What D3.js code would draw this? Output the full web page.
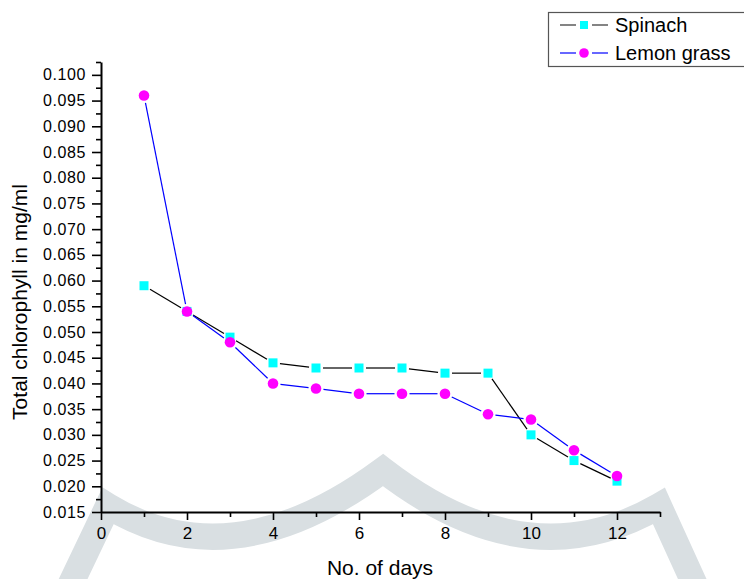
<html>
  <head>
    <script src="https://d3js.org/d3.v7.min.js"></script>
    <style>
      body { margin: 0; background: #fff; }
      text { font-family: "Liberation Sans", Arial, sans-serif; }
    </style>
  </head>
  <body>
    <svg width="744" height="579" id="chart"></svg>
    <script>
      // data
      const days = [1, 2, 3, 4, 5, 6, 7, 8, 9, 10, 11, 12];
      const spinach = [0.059, 0.054, 0.049, 0.044, 0.043, 0.043, 0.043, 0.042, 0.042, 0.030, 0.025, 0.021];
      const lemonGrass = [0.096, 0.054, 0.048, 0.040, 0.039, 0.038, 0.038, 0.038, 0.034, 0.033, 0.027, 0.022];
      const seriesNames = ["Spinach", "Lemon grass"];

      const xTicks = [0, 2, 4, 6, 8, 10, 12];
      const xMinorTicks = [1, 3, 5, 7, 9, 11, 13];
      const yTicks = [0.015, 0.02, 0.025, 0.03, 0.035, 0.04, 0.045, 0.05, 0.055, 0.06,
        0.065, 0.07, 0.075, 0.08, 0.085, 0.09, 0.095, 0.1];
      const yMinorTicks = yTicks.map((v) => v + 0.0025);

      const svg = d3.select("svg#chart");

      // faint watermark behind everything
      svg
        .append("path")
        .attr("d", "M 44 640 L 108 506 Q 232 582 383 470 Q 528 582 659 506 L 720 640")
        .attr("fill", "none")
        .attr("stroke", "#d9dfe2")
        .attr("stroke-width", 26)
        .attr("stroke-linejoin", "miter")
        .attr("stroke-miterlimit", 10);

      const xScale = d3.scaleLinear().domain([0, 13]).range([101, 660]);
      const yScale = d3.scaleLinear().domain([0.015, 0.1025]).range([512, 62]);

      // y axis
      const yAxis = svg.append("g").attr("transform", "translate(101,0)");
      yAxis.call(
        d3.axisLeft(yScale).tickValues(yTicks).tickSize(9).tickSizeOuter(0)
          .tickPadding(6).tickFormat(d3.format(".3f"))
      );
      yAxis.append("g").call(
        d3.axisLeft(yScale).tickValues(yMinorTicks).tickSize(5).tickFormat("")
      ).select(".domain").remove();

      // x axis
      const xAxis = svg.append("g").attr("transform", "translate(0,512)");
      xAxis.call(
        d3.axisBottom(xScale).tickValues(xTicks).tickSize(8).tickSizeOuter(0).tickPadding(7)
      );
      xAxis.append("g").call(
        d3.axisBottom(xScale).tickValues(xMinorTicks).tickSize(5).tickFormat("")
      ).select(".domain").remove();

      svg.selectAll(".domain").attr("stroke", "#000").attr("stroke-width", 2);
      svg.selectAll(".tick line").attr("stroke", "#000").attr("stroke-width", 1.6);
      yAxis.selectAll(".tick text").attr("font-size", 16).attr("fill", "#000")
        .attr("letter-spacing", 0.6)
        .attr("font-family", "Liberation Sans, Arial, sans-serif");
      xAxis.selectAll(".tick text").attr("font-size", 17).attr("fill", "#000")
        .attr("font-family", "Liberation Sans, Arial, sans-serif");

      // axis titles
      svg.append("text")
        .attr("x", 380).attr("y", 575)
        .attr("text-anchor", "middle")
        .attr("font-size", 21)
        .text("No. of days");
      svg.append("text")
        .attr("transform", "translate(27,302) rotate(-90)")
        .attr("text-anchor", "middle")
        .attr("font-size", 21)
        .text("Total chlorophyll in mg/ml");

      // line with little gaps next to the symbols, Origin style
      function drawSeries(values, lineColor, gap) {
        const pts = days.map((d, i) => [xScale(d), yScale(values[i])]);
        for (let i = 0; i < pts.length - 1; i++) {
          const [x1, y1] = pts[i];
          const [x2, y2] = pts[i + 1];
          const len = Math.hypot(x2 - x1, y2 - y1);
          if (len <= 2 * gap) continue;
          const ux = (x2 - x1) / len, uy = (y2 - y1) / len;
          svg.append("line")
            .attr("x1", x1 + ux * gap).attr("y1", y1 + uy * gap)
            .attr("x2", x2 - ux * gap).attr("y2", y2 - uy * gap)
            .attr("stroke", lineColor)
            .attr("stroke-width", 1.2);
        }
        return pts;
      }

      const spPts = drawSeries(spinach, "#000", 7);
      spPts.forEach(([x, y]) => {
        svg.append("rect")
          .attr("x", x - 4.5).attr("y", y - 4.5)
          .attr("width", 9).attr("height", 9)
          .attr("fill", "#00ffff");
      });

      const lgPts = drawSeries(lemonGrass, "#0000ff", 7.5);
      lgPts.forEach(([x, y]) => {
        svg.append("circle")
          .attr("cx", x).attr("cy", y).attr("r", 5.3)
          .attr("fill", "#ff00ff");
      });

      // legend
      const legend = svg.append("g");
      legend.append("rect")
        .attr("x", 548.5).attr("y", 12.5)
        .attr("width", 200).attr("height", 54)
        .attr("fill", "#fff")
        .attr("stroke", "#555")
        .attr("stroke-width", 1.2);
      const legendRows = [
        { name: seriesNames[0], color: "#333", y: 25, shape: "square" },
        { name: seriesNames[1], color: "#0000ff", y: 53, shape: "circle" },
      ];
      legendRows.forEach((r) => {
        legend.append("line").attr("x1", 560).attr("x2", 576)
          .attr("y1", r.y).attr("y2", r.y).attr("stroke", r.color).attr("stroke-width", 1.2);
        legend.append("line").attr("x1", 592).attr("x2", 608)
          .attr("y1", r.y).attr("y2", r.y).attr("stroke", r.color).attr("stroke-width", 1.2);
        if (r.shape === "square") {
          legend.append("rect").attr("x", 580).attr("y", r.y - 4)
            .attr("width", 8).attr("height", 8).attr("fill", "#00ffff");
        } else {
          legend.append("circle").attr("cx", 584).attr("cy", r.y)
            .attr("r", 4.8).attr("fill", "#ff00ff");
        }
        legend.append("text")
          .attr("x", 615).attr("y", r.y + 7)
          .attr("font-size", 20)
          .text(r.name);
      });
    </script>
  </body>
</html>
